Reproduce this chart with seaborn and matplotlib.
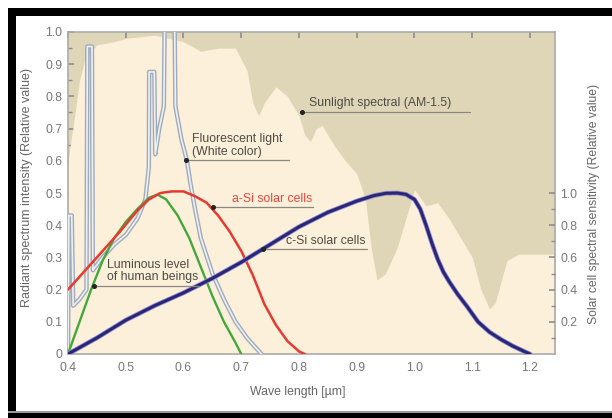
import numpy as np
import pandas as pd
import matplotlib
matplotlib.use("Agg")
import matplotlib.pyplot as plt
import seaborn as sns
from matplotlib.patches import Rectangle

# ---------------- data ----------------
sun_x = [0.400, 0.405, 0.410, 0.420, 0.430, 0.450, 0.480, 0.500, 0.550, 0.600, 0.630, 0.660,
         0.690, 0.710, 0.720, 0.730, 0.740, 0.760, 0.780, 0.800, 0.810, 0.820, 0.830, 0.840,
         0.860, 0.880, 0.900, 0.915, 0.925, 0.935, 0.950, 0.970, 0.985, 1.000, 1.020, 1.040,
         1.060, 1.080, 1.100, 1.115, 1.130, 1.140, 1.160, 1.180, 1.200, 1.250]
sun_y = [0.60, 0.66, 0.72, 0.85, 0.92, 0.96, 0.97, 0.98, 0.99, 0.97, 0.94, 0.95,
         0.95, 0.88, 0.78, 0.74, 0.78, 0.83, 0.80, 0.74, 0.68, 0.66, 0.70, 0.71,
         0.65, 0.60, 0.56, 0.48, 0.33, 0.23, 0.25, 0.33, 0.42, 0.51, 0.46, 0.47,
         0.42, 0.36, 0.30, 0.20, 0.14, 0.16, 0.29, 0.31, 0.31, 0.31]

fluo_x = [0.400, 0.4015, 0.4065, 0.409, 0.420, 0.432, 0.4335, 0.4415, 0.443, 0.460, 0.480,
          0.500, 0.520, 0.534, 0.540, 0.5405, 0.5495, 0.551, 0.558, 0.566, 0.5675, 0.5845,
          0.586, 0.596, 0.606, 0.612, 0.620, 0.630, 0.650, 0.670, 0.690, 0.710, 0.735]
fluo_y = [0.00, 0.43, 0.43, 0.15, 0.17, 0.20, 0.955, 0.955, 0.26, 0.30, 0.34,
          0.37, 0.42, 0.48, 0.58, 0.876, 0.876, 0.62, 0.70, 0.77, 1.05, 1.05,
          0.77, 0.67, 0.60, 0.53, 0.45, 0.36, 0.25, 0.17, 0.10, 0.05, 0.00]

lum_x = [0.40, 0.42, 0.44, 0.46, 0.48, 0.50, 0.52, 0.54, 0.555, 0.57, 0.59, 0.61,
         0.63, 0.65, 0.67, 0.69, 0.70]
lum_y = [0.00, 0.10, 0.20, 0.29, 0.36, 0.41, 0.45, 0.485, 0.495, 0.48, 0.43, 0.36,
         0.27, 0.18, 0.10, 0.035, 0.00]

asi_x = [0.40, 0.43, 0.46, 0.49, 0.52, 0.54, 0.56, 0.58, 0.60, 0.62, 0.64, 0.66,
         0.68, 0.70, 0.72, 0.74, 0.76, 0.78, 0.80, 0.81]
asi_y = [0.20, 0.26, 0.32, 0.38, 0.445, 0.48, 0.50, 0.505, 0.505, 0.49, 0.47, 0.43,
         0.38, 0.32, 0.245, 0.155, 0.09, 0.04, 0.008, 0.00]

csi_x = [0.40, 0.45, 0.50, 0.55, 0.60, 0.65, 0.70, 0.75, 0.80, 0.85, 0.90, 0.93,
         0.95, 0.97, 0.985, 1.00, 1.01, 1.02, 1.03, 1.04, 1.05, 1.06, 1.075, 1.09,
         1.11, 1.13, 1.15, 1.17, 1.19, 1.20]
csi_y = [0.00, 0.05, 0.105, 0.15, 0.19, 0.235, 0.285, 0.34, 0.395, 0.44, 0.475, 0.492,
         0.499, 0.500, 0.496, 0.48, 0.45, 0.40, 0.345, 0.295, 0.255, 0.225, 0.185, 0.15,
         0.10, 0.068, 0.045, 0.025, 0.008, 0.00]

x_ticks = [0.4, 0.5, 0.6, 0.7, 0.8, 0.9, 1.0, 1.1, 1.2]
x_tick_labels = ["0.4", "0.5", "0.6", "0.7", "0.8", "0.9", "1.0", "1.1", "1.2"]
y_ticks = [0, 0.1, 0.2, 0.3, 0.4, 0.5, 0.6, 0.7, 0.8, 0.9, 1.0]
y_tick_labels = ["0", "0.1", "0.2", "0.3", "0.4", "0.5", "0.6", "0.7", "0.8", "0.9", "1.0"]
y2_ticks = [0.2, 0.4, 0.6, 0.8, 1.0]
y2_tick_labels = ["0.2", "0.4", "0.6", "0.8", "1.0"]

labels = {
    "x": "Wave length [µm]",
    "y": "Radiant spectrum intensity (Relative value)",
    "y2": "Solar cell spectral sensitivity (Relative value)",
    "sun": "Sunlight spectral (AM-1.5)",
    "fluo": "Fluorescent light\n(White color)",
    "asi": "a-Si solar cells",
    "csi": "c-Si solar cells",
    "lum": "Luminous level\nof human beings",
}

# ---------------- style ----------------
sns.set_theme(style="white")
plt.rcParams["font.family"] = ["Liberation Sans", "DejaVu Sans"]

TAN = "#DFD6B7"
CREAM = "#FDF0DA"
GRAY_TXT = "#777777"
ANN_TXT = "#4d4a44"

fig = plt.figure(figsize=(6.12, 4.18), dpi=100)
fig.patch.set_facecolor("white")
ax = fig.add_axes([68 / 612, (418 - 354) / 418, (555 - 68) / 612, (354 - 32) / 418])
ax.set_facecolor(TAN)

ax.fill_between(sun_x, 0, sun_y, color=CREAM, lw=0, zorder=1)

# fluorescent: hollow outlined line
sns.lineplot(x=fluo_x, y=fluo_y, ax=ax, sort=False, color="#9EABBE", lw=3.2, zorder=3)
sns.lineplot(x=fluo_x, y=fluo_y, ax=ax, sort=False, color="#EEF0EE", lw=1.2, zorder=3)
sns.lineplot(x=lum_x, y=lum_y, ax=ax, sort=False, color="#43A83C", lw=1.7, zorder=4)
sns.lineplot(x=asi_x, y=asi_y, ax=ax, sort=False, color="#E6392F", lw=1.8, zorder=5)
sns.lineplot(x=csi_x, y=csi_y, ax=ax, sort=False, color="#8F8CD0", lw=3.4, zorder=5)
sns.lineplot(x=csi_x, y=csi_y, ax=ax, sort=False, color="#2A2676", lw=2.2, zorder=6)

ax.set_xlim(0.4, 1.2433)
ax.set_ylim(0, 1.0)

# annotations (dot on curve + underline + text)
def callout(x0, y0, x1, tx, ty, text, color=ANN_TXT):
    ax.plot([x0, x1], [y0, y0], color="#8a8680", lw=0.9, zorder=7)
    ax.plot([x0], [y0], marker="o", ms=2.6, color="#222222", zorder=8)
    ax.text(tx, ty, text, fontsize=8.8, color=color, ha="left", va="bottom",
            linespacing=1.1, zorder=8)

callout(0.805, 0.752, 1.096, 0.818, 0.760, labels["sun"])
callout(0.604, 0.602, 0.783, 0.615, 0.610, labels["fluo"])
callout(0.651, 0.456, 0.824, 0.684, 0.464, labels["asi"], color="#E8453B")
callout(0.738, 0.325, 0.918, 0.777, 0.333, labels["csi"])
callout(0.445, 0.211, 0.627, 0.468, 0.219, labels["lum"])

# axes styling
for s in ax.spines.values():
    s.set_color("#ABABAB")
    s.set_linewidth(1.2)
ax.set_xticks(x_ticks)
ax.set_xticklabels(x_tick_labels)
ax.set_yticks(y_ticks)
ax.set_yticklabels(y_tick_labels)
ax.set_yticks(np.arange(0.05, 1.0, 0.1), minor=True)
ax.tick_params(axis="x", which="major", direction="in", length=4, width=1.2, color="#8c8c8c",
               labelsize=8.8, labelcolor=GRAY_TXT, pad=6, top=True, bottom=True)
ax.tick_params(axis="y", which="major", direction="in", length=4, width=1.2, color="#8c8c8c",
               labelsize=8.8, labelcolor=GRAY_TXT, pad=4, left=True, right=False)
ax.tick_params(axis="y", which="minor", direction="in", length=3, width=1.0, color="#8c8c8c",
               left=True, right=False)

ax.set_xlabel(labels["x"], fontsize=8.8, color="#666666")
ax.xaxis.set_label_coords(0.472, -0.098)
ax.set_ylabel(labels["y"], fontsize=9, color="#666666")
ax.yaxis.set_label_coords(-0.072, 0.516)

ax2 = ax.twinx()
ax2.set_ylim(0, 2.0)
ax2.set_yticks(y2_ticks)
ax2.set_yticklabels(y2_tick_labels)
ax2.set_yticks([0.1, 0.3, 0.5, 0.7, 0.9], minor=True)
for s in ax2.spines.values():
    s.set_visible(False)
ax2.tick_params(axis="y", which="major", direction="in", length=4, width=1.2, color="#8c8c8c",
                labelsize=8.8, labelcolor=GRAY_TXT, pad=4, right=True)
ax2.tick_params(axis="y", which="minor", direction="in", length=3, width=1.0, color="#8c8c8c",
                right=True)
ax2.set_ylabel(labels["y2"], fontsize=8.7, color="#666666")
ax2.yaxis.set_label_coords(1.068, 0.466)
ax2.grid(False)
ax.grid(False)

# scanned black frame
fig.add_artist(Rectangle((8 / 612, 0), 8 / 612, 410 / 418, transform=fig.transFigure,
                         color="black", lw=0))
fig.add_artist(Rectangle((8 / 612, (418 - 16) / 418), 604 / 612, 8 / 418,
                         transform=fig.transFigure, color="black", lw=0))
fig.add_artist(Rectangle((8 / 612, 0), 604 / 612, 5 / 418, transform=fig.transFigure,
                         color="black", lw=0))
fig.add_artist(Rectangle((8 / 612, 5 / 418), 604 / 612, 2 / 418, transform=fig.transFigure,
                         color="#9a9a9a", lw=0))

fig.savefig("out.png", dpi=100)
